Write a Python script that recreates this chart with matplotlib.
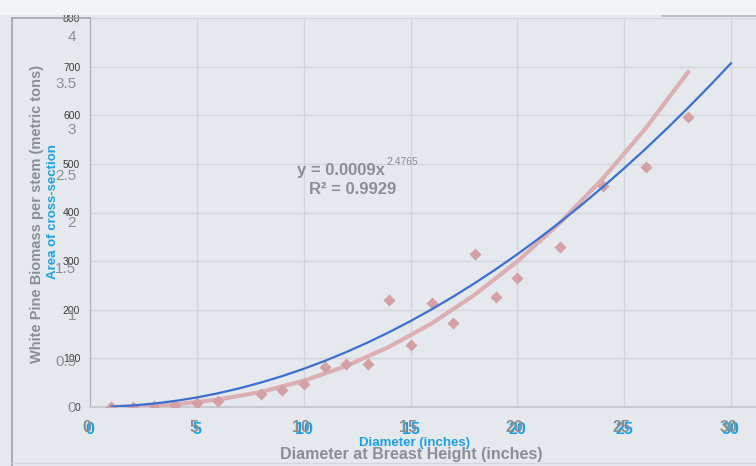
import numpy as np
import matplotlib
matplotlib.use("Agg")
import matplotlib.pyplot as plt
from matplotlib.lines import Line2D
from matplotlib.patches import Rectangle

# === Data ===
# white pine biomass per stem (metric tons) vs diameter at breast height (in)
dbh = [1, 2, 3, 4, 5, 6, 8, 9, 10, 11, 12, 13, 14, 15, 16, 17, 18, 19, 20, 22, 24, 26, 28]
biomass = [0.0, 0.0, 0.01, 0.02, 0.04, 0.06, 0.14, 0.18, 0.25, 0.43, 0.46, 0.46,
           1.15, 0.67, 1.12, 0.91, 1.65, 1.19, 1.39, 1.72, 2.38, 2.59, 3.12]

# power trendline as drawn (metric tons)
trend_x = [1, 2, 4, 6, 8, 10, 12, 14, 16, 18, 20, 22, 24, 26, 28]
trend_y = [0.001, 0.005, 0.029, 0.080, 0.162, 0.282, 0.442, 0.648, 0.902,
           1.208, 1.568, 1.984, 2.46, 3.00, 3.61]

# area of cross-section (square inches) vs diameter (in)
diam = list(range(1, 31))
area = [0.8, 3.1, 7.1, 12.6, 19.6, 28.3, 38.5, 50.3, 63.6, 78.5, 95.0, 113.1,
        132.7, 153.9, 176.7, 201.1, 227.0, 254.5, 283.5, 314.2, 346.4, 380.1,
        415.5, 452.4, 490.9, 530.9, 572.6, 615.8, 660.5, 706.9]

x_ticks = [0, 5, 10, 15, 20, 25, 30]
area_ticks = [0, 100, 200, 300, 400, 500, 600, 700, 800]
ton_ticks = [0, 0.5, 1, 1.5, 2, 2.5, 3, 3.5, 4]

eq_text = "y = 0.0009x"
eq_power = "2.4765"
r2_text = "R\u00b2 = 0.9929"

# === Style ===
W, H = 756, 466
bg = '#e5e8ed'
gray_txt = '#8b8e92'
blue_txt = '#1ba1e2'
narrow = ['Liberation Sans Narrow', 'Liberation Sans', 'DejaVu Sans']
plt.rcParams['font.family'] = ['Liberation Sans', 'DejaVu Sans']

fig = plt.figure(figsize=(W / 100, H / 100), dpi=100, facecolor=bg)

def fx(px):
    return px / W

def fy(py):
    return 1 - py / H

# frame bits
fig.add_artist(Rectangle((0, fy(15)), 1, 15 / H, transform=fig.transFigure,
                         color='#f1f3f5', lw=0))
fig.add_artist(Line2D([fx(12), fx(12)], [0, fy(18)], transform=fig.transFigure,
                      color='#9fa3a8', lw=1.2))
fig.add_artist(Line2D([fx(12), fx(90)], [fy(18), fy(18)], transform=fig.transFigure,
                      color='#a3a7ab', lw=1.2))
fig.add_artist(Line2D([fx(662), 1], [fy(16), fy(16)], transform=fig.transFigure,
                      color='#b5b8bc', lw=1.2))
fig.add_artist(Line2D([fx(12), 1], [fy(463), fy(463)], transform=fig.transFigure,
                      color='#d3d6da', lw=1))

# === Area axes (0-800) ===
ax = fig.add_axes([fx(90), fy(407), fx(756) - fx(90), (407 - 18) / H])
ax.set_facecolor(bg)
ax.set_xlim(0, 31.17)
ax.set_ylim(0, 800)
ax.set_xticks(x_ticks)
ax.set_yticks(area_ticks)
ax.grid(True, color='#d2d5d9', lw=1)
ax.set_axisbelow(True)
for s in ['top', 'right']:
    ax.spines[s].set_visible(False)
ax.spines['left'].set_color('#a9acb0')
ax.spines['bottom'].set_color('#c6c9cd')
ax.spines['bottom'].set_linewidth(1.5)
ax.tick_params(axis='y', length=0, labelsize=7.5, labelcolor='#3c3c3c', pad=7)
ax.tick_params(axis='x', length=0, labelsize=11.5, labelcolor=blue_txt, pad=11)
for lab in ax.get_xticklabels():
    lab.set_fontweight('bold')
    lab.set_zorder(5)

# gray x tick labels of the biomass chart, slightly offset behind
for t in x_ticks:
    ax.annotate(str(t), xy=(t, 0), xycoords=('data', 'axes fraction'),
                xytext=(-2, -14.5), textcoords='offset points',
                ha='center', va='center', fontsize=11.5, fontweight='bold',
                color=gray_txt, zorder=1, annotation_clip=False)

# === Biomass axes (0-4 tons) ===
ax2 = ax.twinx()
ax2.set_ylim(0, 4.19)
ax2.yaxis.tick_left()
ax2.set_yticks(ton_ticks)
ax2.set_yticklabels(['%g' % v for v in ton_ticks])
ax2.tick_params(axis='y', length=0, labelsize=11, labelcolor=gray_txt, pad=10)
for s in ax2.spines.values():
    s.set_visible(False)

ax2.plot(trend_x, trend_y, color='#dcb0b3', lw=3, solid_capstyle='round', zorder=2)
ax2.plot(dbh, biomass, 'D', color='#d3a0a5', ms=6.5, mec='none', zorder=3)
ax2.plot(diam, area, color='#3b6fd2', lw=1.6, transform=ax.transData, zorder=4)

# trendline equation
fig.text(fx(385), fy(171), eq_text, ha='right', va='center', fontsize=12,
         fontweight='bold', color=gray_txt)
fig.text(fx(386), fy(162), eq_power, ha='left', va='center', fontsize=7.5,
         color=gray_txt)
fig.text(fx(353), fy(189), r2_text, ha='center', va='center', fontsize=12,
         fontweight='bold', color=gray_txt)

# axis titles
fig.text(fx(411), fy(455), 'Diameter at Breast Height (inches)', ha='center',
         va='center', fontsize=11.5, fontweight='bold', color=gray_txt)
fig.text(fx(414), fy(443), 'Diameter (inches)', ha='center', va='center',
         fontsize=9.5, fontweight='bold', color=blue_txt, family=narrow)
fig.text(fx(37), fy(214), 'White Pine Biomass per stem (metric tons)',
         rotation=90, ha='center', va='center', fontsize=10.5,
         fontweight='bold', color=gray_txt)
fig.text(fx(53), fy(212), 'Area of cross-section', rotation=90, ha='center',
         va='center', fontsize=9.5, fontweight='bold', color=blue_txt,
         family=narrow)

fig.savefig('out.png', dpi=100, facecolor=fig.get_facecolor())
